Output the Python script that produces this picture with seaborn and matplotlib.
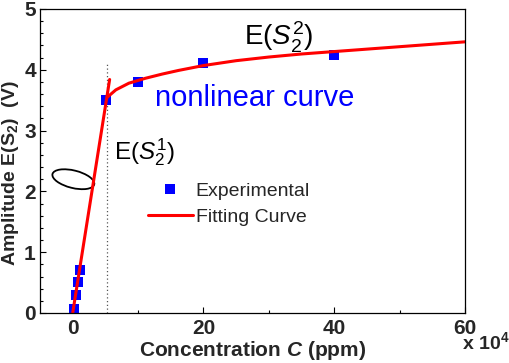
import matplotlib
matplotlib.use("Agg")
import matplotlib.pyplot as plt
import seaborn as sns
import numpy as np
import pandas as pd
from matplotlib.patches import Ellipse
from matplotlib.lines import Line2D
from matplotlib.transforms import ScaledTranslation

sns.set_theme(style="ticks")
plt.rcParams['font.family'] = ['Liberation Sans', 'DejaVu Sans']
plt.rcParams['mathtext.fontset'] = 'custom'
plt.rcParams['mathtext.rm'] = 'Liberation Sans'
plt.rcParams['mathtext.it'] = 'Liberation Sans:italic'
plt.rcParams['mathtext.bf'] = 'Liberation Sans:bold'
try:
    plt.rcParams['mathtext.bfit'] = 'Liberation Sans:italic:bold'
    BFIT = True
except Exception:
    BFIT = False

# experimental data (x in 10^4 ppm)
exp_x = [0.15, 0.5, 0.75, 1.05, 5.1, 10.0, 20.0, 40.0]
exp_y = [0.07, 0.30, 0.51, 0.71, 3.50, 3.80, 4.11, 4.25]

# linear fitting segment
lin_x = [0.0, 5.65]
lin_y = [0.0, 3.84]

# nonlinear fitting curve
nl_x = [5.3, 6.6, 8.6, 11.1, 13.7, 16.2, 20.0, 25.0, 30.0, 35.0, 40.0, 50.0, 60.0]
nl_y = [3.55, 3.67, 3.78, 3.86, 3.93, 3.99, 4.07, 4.15, 4.21, 4.26, 4.30, 4.38, 4.46]

# dotted separator
sep_x = 5.2
sep_top = 4.12

fig = plt.figure(figsize=(5.1, 3.63), dpi=100)
ax = fig.add_axes([40/510, 1-313/363, 425/510, 304/363])

red = '#ff0000'
blue = '#0000ff'

sns.lineplot(x=lin_x, y=lin_y, ax=ax, color=red, lw=2.2, estimator=None, sort=False)
sns.lineplot(x=nl_x, y=nl_y, ax=ax, color=red, lw=2.2, estimator=None, sort=False)
sns.scatterplot(x=exp_x, y=exp_y, ax=ax, marker='s', color=blue, s=45, linewidth=0, zorder=1)
ax.vlines(sep_x, 0, sep_top, colors='#555555', linestyles=(0, (1, 2)), lw=0.9, zorder=0)

ax.set_xlim(-5, 60)
ax.set_ylim(0, 5)
ax.set_xticks([0, 20, 40, 60])
ax.set_xticks([10, 30, 50], minor=True)
ax.set_yticks([0, 1, 2, 3, 4, 5])
ax.set_yticks(np.arange(0, 5.01, 0.2), minor=True)
ax.tick_params(which='both', direction='in', color='black', width=0.8)
ax.tick_params(which='major', length=4)
ax.tick_params(which='minor', length=2.5)
ax.tick_params(axis='x', pad=4)
ax.tick_params(axis='y', pad=3)
for lab in ax.get_xticklabels() + ax.get_yticklabels():
    lab.set_fontweight('bold')
    lab.set_fontsize(15)
for s in ax.spines.values():
    s.set_linewidth(0.9)
    s.set_color('black')

xl = r"Concentration $\mathbfit{C}$ (ppm)" if BFIT else r"Concentration $\mathit{C}$ (ppm)"
try:
    ax.set_xlabel(xl, fontsize=15, fontweight='bold', labelpad=1)
    fig.canvas.draw()
except Exception:
    ax.set_xlabel(r"Concentration $\mathit{C}$ (ppm)", fontsize=15, fontweight='bold', labelpad=1)
ax.set_ylabel(r"Amplitude E(S$_{\mathbf{2}}$)  (V)", fontsize=14, fontweight='bold')
ax.yaxis.set_label_coords(-0.045, 0.46)

fig.text(462/510, 1-349/363, r"x 10$^{\mathbf{4}}$", fontsize=14, fontweight='bold', va='baseline', ha='left')

ax.text(26.2, 4.395, r"E($S_2^2$)", fontsize=20, va='baseline', ha='left', color='black')
ax.text(6.26, 2.52, r"E($S_2^1$)", fontsize=17.5, va='baseline', ha='left', color='black')
ax.text(12.6, 3.41, "nonlinear curve", fontsize=21, va='baseline', ha='left', color=blue)

# ellipse annotation (size in inches, centred at data point)
ell_cx, ell_cy = 0.1, 2.2
ell = Ellipse((0, 0), width=0.43, height=0.175, angle=-14, fill=False, ec='black', lw=1.3,
              transform=fig.dpi_scale_trans + ScaledTranslation(ell_cx, ell_cy, ax.transData))
ax.add_patch(ell)

handles = [Line2D([], [], marker='s', color=blue, ls='none', markersize=6.5, markeredgewidth=0),
           Line2D([], [], color=red, lw=2.2)]
ax.legend(handles, ["Experimental", "Fitting Curve"], loc='center left',
          bbox_to_anchor=(148/510, 1-204/363), bbox_transform=fig.transFigure,
          frameon=False, fontsize=14, handlelength=2.3, handletextpad=0.15,
          borderpad=0, borderaxespad=0, labelspacing=0.45)

fig.savefig("out.png", dpi=100)
